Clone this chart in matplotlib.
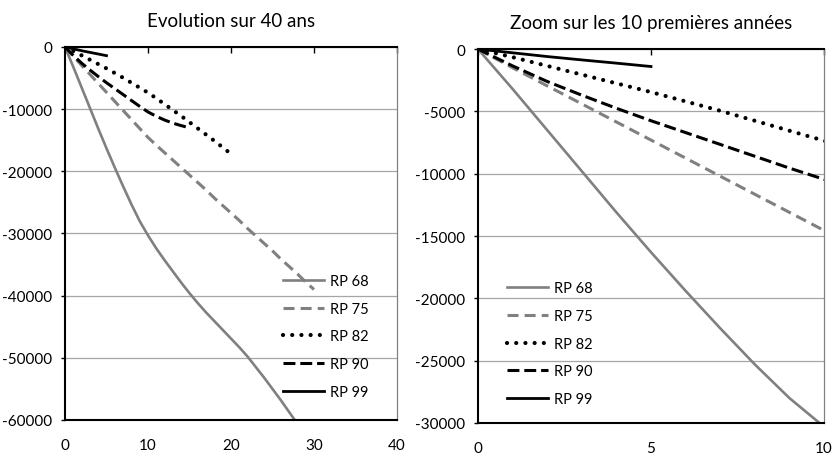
import matplotlib
matplotlib.use('Agg')
import matplotlib.pyplot as plt

# cumulative values per year since census
labels = ['RP 68', 'RP 75', 'RP 82', 'RP 90', 'RP 99']
rp68 = [0, -3200, -6500, -9800, -13100, -16300, -19400, -22400, -25300, -28000,
        -30300, -32400, -34300, -36100, -37900, -39600, -41200, -42700, -44100,
        -45500, -46900, -48300, -49800, -51500, -53200, -55000, -56800, -58700, -60600]
rp75 = [0, -1500, -2950, -4400, -5850, -7300, -8750, -10200, -11650, -13100,
        -14550, -15800, -17000, -18200, -19400, -20600, -21800, -23000, -24300,
        -25500, -26700, -27900, -29200, -30400, -31600, -32800, -34100, -35300,
        -36500, -37800, -39000]
rp82 = [0, -650, -1350, -2050, -2750, -3450, -4200, -4950, -5750, -6550, -7350,
        -8250, -9200, -10150, -11100, -12100, -13100, -14100, -15100, -16150, -17200]
rp90 = [0, -1350, -2600, -3700, -4750, -5750, -6700, -7650, -8600, -9550, -10450,
        -11150, -11750, -12250, -12650, -13000]
rp99 = [0, -300, -600, -870, -1130, -1400]
series = [rp68, rp75, rp82, rp90, rp99]

titles = ['Evolution sur 40 ans', 'Zoom sur les 10 premières années']
xlims = [(0, 40), (0, 10)]
xticks = [[0, 10, 20, 30, 40], [0, 5, 10]]
ylims = [(-60000, 0), (-30000, 0)]
ysteps = [10000, 5000]

plt.rcParams['font.family'] = ['Lato', 'DejaVu Sans']
plt.rcParams['axes.unicode_minus'] = False

gray = '#808080'
styles = [
    dict(color=gray, lw=1.9, ls='-'),
    dict(color=gray, lw=2.2, ls=(0, (3.6, 2.0))),
    dict(color='black', lw=3.0, ls=(0, (0.01, 2.2)), dash_capstyle='round'),
    dict(color='black', lw=2.2, ls=(0, (3.9, 1.6))),
    dict(color='black', lw=2.0, ls='-'),
]

fig = plt.figure(figsize=(8.32, 4.56), dpi=100)
axes = [fig.add_axes([0.0781, 0.0768, 0.399, 0.818]),
        fig.add_axes([0.5745, 0.0702, 0.4159, 0.820])]
leg_anchor = [(0.657, 0.392), (0.084, 0.38)]

for k, ax in enumerate(axes):
    for vals, lab, st in zip(series, labels, styles):
        ax.plot(range(len(vals)), vals, label=lab, **st)
    ax.set_xlim(*xlims[k])
    ax.set_ylim(*ylims[k])
    ax.set_xticks(xticks[k])
    ax.set_yticks(range(ylims[k][0], 1, ysteps[k]))
    ax.grid(axis='y', color='#a6a6a6', lw=0.9)
    ax.set_axisbelow(True)
    for s in ['left', 'top', 'bottom']:
        ax.spines[s].set_color('black')
        ax.spines[s].set_linewidth(1.5)
    ax.spines['right'].set_color(gray)
    ax.spines['right'].set_linewidth(0.9)
    ax.tick_params(axis='x', top=True, bottom=False, labelbottom=True, labeltop=False,
                   direction='in', length=4, width=1, pad=13, labelsize=11)
    ax.tick_params(axis='y', direction='out', length=3, width=1, pad=6, labelsize=11)
    ax.set_title(titles[k], fontsize=13.5, pad=15)
    ax.legend(loc='upper left', bbox_to_anchor=leg_anchor[k], frameon=False,
              fontsize=10.5, handlelength=2.8, handletextpad=0.4, labelspacing=0.95,
              borderpad=0, borderaxespad=0)

fig.savefig('out.png', dpi=100)
